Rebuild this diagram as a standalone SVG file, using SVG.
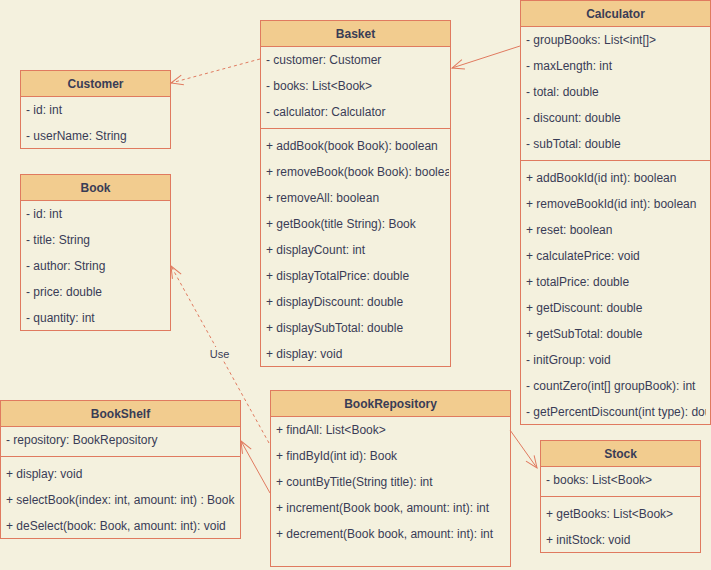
<svg xmlns="http://www.w3.org/2000/svg" width="711" height="570" viewBox="0 0 711 570">
<defs>
<style>
.box{fill:#F4F1DE;stroke:#E07A5F;stroke-width:1}
.hdr{fill:#F2CC8F;stroke:#E07A5F;stroke-width:1}
.sep{stroke:#E07A5F;stroke-width:1;fill:none}
.t{font-family:"Liberation Sans",Arial,sans-serif;font-size:12px;fill:#393C56}
.h{font-family:"Liberation Sans",Arial,sans-serif;font-size:12px;font-weight:bold;fill:#393C56;text-anchor:middle}
.c{stroke:#E07A5F;stroke-width:1;fill:none}
.d{stroke-dasharray:3 3}
.lbl{font-family:"Liberation Sans",Arial,sans-serif;font-size:11px;fill:#393C56;text-anchor:middle}
</style>
<marker id="open" markerUnits="userSpaceOnUse" markerWidth="16" markerHeight="14" viewBox="-14 -7 16 14" refX="0" refY="0" orient="auto">
<path d="M-12,-5 L0,0 L-12,5" fill="none" stroke="#E07A5F" stroke-width="1"/>
</marker>
<clipPath id="clipBasket"><rect x="260" y="20" width="189" height="346"/></clipPath>
<clipPath id="clipCalc"><rect x="520" y="0" width="186" height="424"/></clipPath>
</defs>
<rect x="0" y="0" width="711" height="570" fill="#F4F1DE"/>

<g id="customer">
<rect class="box" x="20.5" y="70.5" width="150" height="78"/>
<rect class="hdr" x="20.5" y="70.5" width="150" height="26"/>
<text class="h" x="95.5" y="88">Customer</text>
<text class="t" x="26" y="114">- id: int</text>
<text class="t" x="26" y="140">- userName: String</text>
</g>

<g id="book">
<rect class="box" x="20.5" y="174.5" width="150" height="156"/>
<rect class="hdr" x="20.5" y="174.5" width="150" height="26"/>
<text class="h" x="95.5" y="192">Book</text>
<text class="t" x="26" y="218">- id: int</text>
<text class="t" x="26" y="244">- title: String</text>
<text class="t" x="26" y="270">- author: String</text>
<text class="t" x="26" y="296">- price: double</text>
<text class="t" x="26" y="322">- quantity: int</text>
</g>

<g id="basket">
<rect class="box" x="260.5" y="20.5" width="190" height="346"/>
<rect class="hdr" x="260.5" y="20.5" width="190" height="26"/>
<text class="h" x="355.5" y="38">Basket</text>
<line class="sep" x1="260.5" y1="128.5" x2="450.5" y2="128.5"/>
<g clip-path="url(#clipBasket)">
<text class="t" x="266" y="64">- customer: Customer</text>
<text class="t" x="266" y="90">- books: List&lt;Book&gt;</text>
<text class="t" x="266" y="116">- calculator: Calculator</text>
<text class="t" x="266" y="150">+ addBook(book Book): boolean</text>
<text class="t" x="266" y="176">+ removeBook(book Book): boolean</text>
<text class="t" x="266" y="202">+ removeAll: boolean</text>
<text class="t" x="266" y="228">+ getBook(title String): Book</text>
<text class="t" x="266" y="254">+ displayCount: int</text>
<text class="t" x="266" y="280">+ displayTotalPrice: double</text>
<text class="t" x="266" y="306">+ displayDiscount: double</text>
<text class="t" x="266" y="332">+ displaySubTotal: double</text>
<text class="t" x="266" y="358">+ display: void</text>
</g>
</g>

<g id="calculator">
<rect class="box" x="520.5" y="0.5" width="190" height="424"/>
<rect class="hdr" x="520.5" y="0.5" width="190" height="26"/>
<text class="h" x="615.5" y="18">Calculator</text>
<line class="sep" x1="520.5" y1="160.5" x2="710.5" y2="160.5"/>
<g clip-path="url(#clipCalc)">
<text class="t" x="526" y="44">- groupBooks: List&lt;int[]&gt;</text>
<text class="t" x="526" y="70">- maxLength: int</text>
<text class="t" x="526" y="96">- total: double</text>
<text class="t" x="526" y="122">- discount: double</text>
<text class="t" x="526" y="148">- subTotal: double</text>
<text class="t" x="526" y="182">+ addBookId(id int): boolean</text>
<text class="t" x="526" y="208">+ removeBookId(id int): boolean</text>
<text class="t" x="526" y="234">+ reset: boolean</text>
<text class="t" x="526" y="260">+ calculatePrice: void</text>
<text class="t" x="526" y="286">+ totalPrice: double</text>
<text class="t" x="526" y="312">+ getDiscount: double</text>
<text class="t" x="526" y="338">+ getSubTotal: double</text>
<text class="t" x="526" y="364">- initGroup: void</text>
<text class="t" x="526" y="390">- countZero(int[] groupBook): int</text>
<text class="t" x="526" y="416">- getPercentDiscount(int type): double</text>
</g>
</g>

<g id="bookshelf">
<rect class="box" x="0.5" y="400.5" width="240" height="138"/>
<rect class="hdr" x="0.5" y="400.5" width="240" height="26"/>
<text class="h" x="120.5" y="418">BookShelf</text>
<line class="sep" x1="0.5" y1="456.5" x2="240.5" y2="456.5"/>
<text class="t" x="6" y="444">- repository: BookRepository</text>
<text class="t" x="6" y="478">+ display: void</text>
<text class="t" x="6" y="504">+ selectBook(index: int, amount: int) : Book</text>
<text class="t" x="6" y="530">+ deSelect(book: Book, amount: int): void</text>
</g>

<g id="bookrepository">
<rect class="box" x="270.5" y="390.5" width="240" height="176"/>
<rect class="hdr" x="270.5" y="390.5" width="240" height="26"/>
<text class="h" x="390.5" y="408">BookRepository</text>
<text class="t" x="276" y="434">+ findAll: List&lt;Book&gt;</text>
<text class="t" x="276" y="460">+ findById(int id): Book</text>
<text class="t" x="276" y="486">+ countByTitle(String title): int</text>
<text class="t" x="276" y="512">+ increment(Book book, amount: int): int</text>
<text class="t" x="276" y="538">+ decrement(Book book, amount: int): int</text>
</g>

<g id="stock">
<rect class="box" x="540.5" y="440.5" width="160" height="112"/>
<rect class="hdr" x="540.5" y="440.5" width="160" height="26"/>
<text class="h" x="620.5" y="458">Stock</text>
<line class="sep" x1="540.5" y1="496.5" x2="700.5" y2="496.5"/>
<text class="t" x="546" y="484">- books: List&lt;Book&gt;</text>
<text class="t" x="546" y="518">+ getBooks: List&lt;Book&gt;</text>
<text class="t" x="546" y="544">+ initStock: void</text>
</g>

<g id="connectors">
<line class="c d" x1="260" y1="59" x2="171" y2="83" marker-end="url(#open)"/>
<line class="c" x1="520" y1="46" x2="452" y2="68" marker-end="url(#open)"/>
<line class="c d" x1="269" y1="443" x2="171" y2="266" marker-end="url(#open)"/>
<rect x="208" y="347" width="23" height="14" fill="#F4F1DE"/>
<text class="lbl" x="219.5" y="358">Use</text>
<line class="c" x1="270" y1="493" x2="241" y2="441" marker-end="url(#open)"/>
<line class="c" x1="510" y1="430" x2="537" y2="468" marker-end="url(#open)"/>
</g>
</svg>
